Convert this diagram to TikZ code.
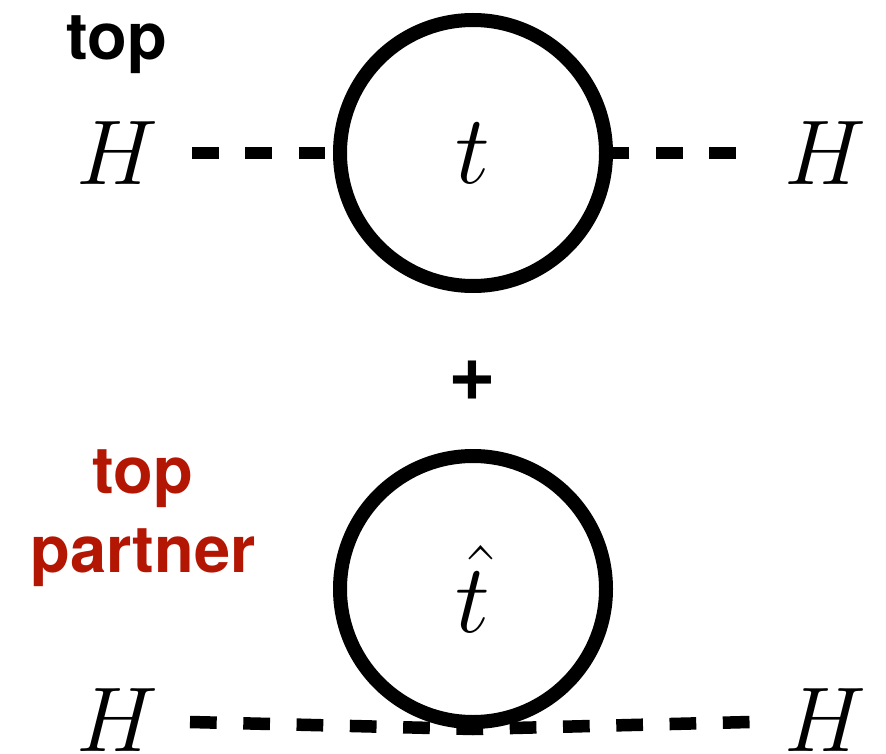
\RequirePackage{fix-cm}
\documentclass[tikz,border=0pt]{standalone}
\usepackage{fontspec}
\newfontfamily\heros{TeX Gyre Heros}
\definecolor{partnerred}{RGB}{180,22,4}

\begin{document}
\begin{tikzpicture}[
  x=1pt,y=-1pt,
  loop/.style={circle,draw=black,line width=14pt,minimum size=266pt,
               inner sep=0pt,font=\fontsize{98}{98}\selectfont},
  higgs/.style={line width=12.5pt,dash pattern=on 26.7pt off 26.6pt},
  field/.style={font=\fontsize{92}{92}\selectfont,anchor=base,inner sep=0pt},
  tag/.style={font=\heros\bfseries\fontsize{65}{79}\selectfont,
              align=center,inner sep=0pt,anchor=base},
]
\useasboundingbox (0,0) rectangle (886,754);

% top loop
\node[tag] (lblT) at (117,60) {top};
\node[loop] (loopT) at (473,153) {$t$};
\node[field] (hTL) at (117,185) {$H$};
\node[field] (hTR) at (825,185) {$H$};
\coordinate (aL) at (192,153);
\coordinate (aR) at (736,153);
\draw[higgs] (aL) -- (loopT.west);
\draw[higgs] (aR) -- (loopT.east);

\node[font=\heros\bfseries\fontsize{82}{82}\selectfont,inner sep=0pt] (plus) at (472,381) {+};

% partner loop
\node[tag,text=partnerred] (lblB) at (143,572) {top\\partner};
\node[loop] (loopB) at (473,589) {$\hat{t}$};
\node[field] (hBL) at (117,751) {$H$};
\node[field] (hBR) at (825,751) {$H$};
\coordinate (bL) at (190,722);
\coordinate (bR) at (750,722);
\draw[higgs] (bL) -- (loopB.south) -- (bR);

\end{tikzpicture}
\end{document}
